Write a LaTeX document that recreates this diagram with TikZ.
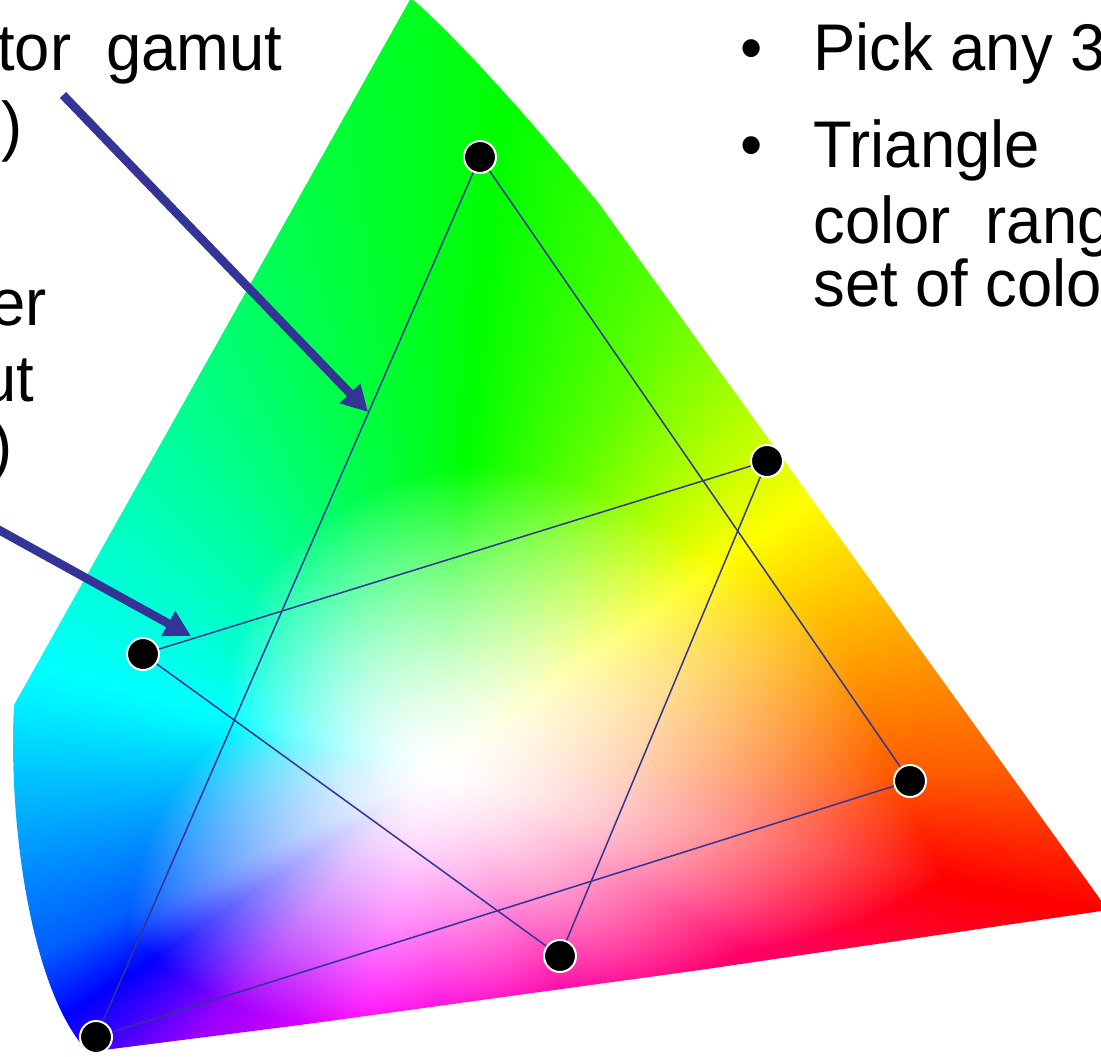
\documentclass[tikz,border=0pt]{standalone}
\usepackage{fontspec}
\setmainfont{Liberation Sans}
\usetikzlibrary{arrows.meta}
\definecolor{lineblue}{RGB}{52,52,150}

\pgfdeclarefunctionalshading{gamut}{\pgfpointorigin}{\pgfpoint{550.5bp}{528.5bp}}{}{
2 mul 287 sub exch 2 mul 435.013 sub
2 copy atan
3 1 roll dup mul exch dup mul add sqrt
1 index
dup -1.5 mul 450 add
1 index 20 sub dup abs add -1.25 mul add
1 index 40 sub dup abs add 1.6 mul add
1 index 90 sub dup abs add -0.1 mul add
1 index 130 sub dup abs add -0.125 mul add
1 index 170 sub dup abs add 2.467 mul add
1 index 208 sub dup abs add -2.7795 mul add
1 index 240 sub dup abs add 0.271 mul add
1 index 270 sub dup abs add 0.833 mul add
1 index 300 sub dup abs add 1.5 mul add
1 index 330 sub dup abs add 2.778 mul add
1 index 348 sub dup abs add -7.361 mul add
exch pop
div dup sqrt mul
dup abs exch 1 sub abs sub 1 add 2 div
exch
dup 1.0556 mul 22 add
1 index 36 sub dup abs add 0.1508 mul add
1 index 64 sub dup abs add -0.1369 mul add
1 index 88 sub dup abs add -0.1392 mul add
1 index 129 sub dup abs add -0.0854 mul add
1 index 170 sub dup abs add 0.1830 mul add
1 index 205 sub dup abs add 0.7609 mul add
1 index 228 sub dup abs add -0.7809 mul add
1 index 253 sub dup abs add -0.2520 mul add
1 index 310 sub dup abs add 0.0328 mul add
1 index 333 sub dup abs add 0.4725 mul add
1 index 348 sub dup abs add 0.1833 mul add
exch pop
dup 180 sub abs 60 div 1 sub dup abs exch 1 sub abs sub 1 add 2 div
1 index 120 sub abs 60 div 2 exch sub dup abs exch 1 sub abs sub 1 add 2 div
2 index 480 sub abs 60 div 2 exch sub dup abs exch 1 sub abs sub 1 add 2 div
add
2 index 240 sub abs 60 div 2 exch sub dup abs exch 1 sub abs sub 1 add 2 div
4 -1 roll pop
1 exch sub 3 index mul 1 exch sub
exch 1 exch sub 3 index mul 1 exch sub
exch
3 -1 roll 1 exch sub 3 index mul 1 exch sub
3 1 roll
4 -1 roll pop
}

\tikzset{
  dot/.style={circle, fill=black, draw=white, line width=1bp, minimum size=16bp, inner sep=0pt},
  triline/.style={draw=lineblue, line width=0.75bp},
  bigarrow/.style={draw=lineblue, line width=4.3bp, -{Triangle[length=13bp,width=13.5bp]}},
  txt/.style={inner sep=0pt, font=\fontsize{33bp}{40bp}\selectfont}
}
\newcommand{\sq}[1]{\scalebox{0.96}[1]{#1}}

\begin{document}
\begin{tikzpicture}[x=0.5bp,y=-0.5bp]
\useasboundingbox (0,0) rectangle (1101,1057);
\fill[white] (0,0) rectangle (1101,1057);

% colour gamut
\begin{scope}
\clip (411,-2) .. controls (455,35) and (540,130) .. (600,205) -- (1108,910) -- (700,970) -- (300,1025) -- (88,1052) .. controls (30,990) and (8,820) .. (14,705) -- cycle;
\node[inner sep=0pt, anchor=south west] (shade) at (0,1057) {\pgfuseshading{gamut}};
\end{scope}

% points
\node[dot] (A) at (480,157) {};
\node[dot] (B) at (767,461) {};
\node[dot] (C) at (143,654) {};
\node[dot] (D) at (910,781) {};
\node[dot] (E) at (560,956) {};
\node[dot] (F) at (96,1037) {};

% triangles
\draw[triline] (A) -- (D);
\draw[triline] (D) -- (F);
\draw[triline] (F) -- (A);
\draw[triline] (C) -- (B);
\draw[triline] (C) -- (E);
\draw[triline] (E) -- (B);

% arrows
\coordinate (s1) at (63,95);
\coordinate (t1) at (368,412);
\draw[bigarrow] (s1) -- (t1);
\coordinate (s2) at (-10,525);
\coordinate (t2) at (191,636);
\draw[bigarrow] (s2) -- (t2);

% left text
\node[txt, anchor=base east] (L1) at (283,70) {\sq{tor\ \ gamut}};
\node[txt, anchor=base east] (L2) at (23,148) {\sq{l)}};
\node[txt, anchor=base east] (L4) at (47,325) {\sq{er}};
\node[txt, anchor=base east] (L5) at (35,401) {\sq{ut}};
\node[txt, anchor=base east] (L6) at (13,468) {\sq{)}};

% right text
\node[txt, anchor=base west] (b1) at (740,70) {\sq{•}};
\node[txt, anchor=base west] (b2) at (740,167) {\sq{•}};
\node[txt, anchor=base west] (R1) at (813,70) {\sq{Pick any 3}};
\node[txt, anchor=base west] (R2) at (813,167) {\sq{Triangle}};
\node[txt, anchor=base west] (R3) at (813,243) {\sq{color\ \ rang}};
\node[txt, anchor=base west] (R4) at (813,306) {\sq{set of colo}};
\end{tikzpicture}
\end{document}
